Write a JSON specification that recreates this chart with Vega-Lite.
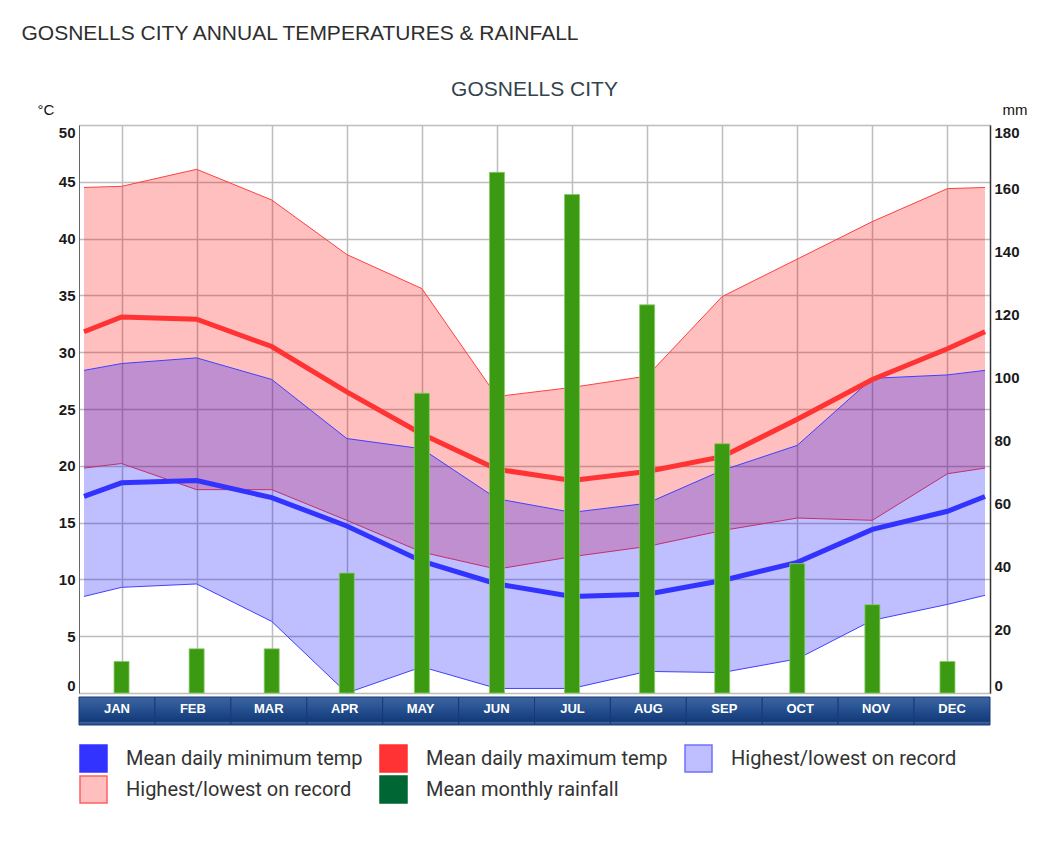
{
  "$schema": "https://vega.github.io/schema/vega-lite/v6.json",
  "background": "white",
  "padding": {"left": 21, "top": 22, "right": 10, "bottom": 10},
  "title": {
    "text": "GOSNELLS CITY ANNUAL TEMPERATURES & RAINFALL",
    "anchor": "start",
    "frame": "bounds",
    "font": "Liberation Sans",
    "fontSize": 21,
    "fontWeight": "normal",
    "color": "#2e2e2e",
    "dx": -15,
    "offset": 35
  },
  "datasets": {
    "temps": [
      {"m": 0.5, "meanMax": 31.8, "meanMin": 17.3, "recHighMax": 44.5, "recLowMax": 19.8, "recHighMin": 28.4, "recLowMin": 8.5},
      {"m": 1, "meanMax": 33.1, "meanMin": 18.5, "recHighMax": 44.6, "recLowMax": 20.2, "recHighMin": 29.0, "recLowMin": 9.3},
      {"m": 2, "meanMax": 32.9, "meanMin": 18.7, "recHighMax": 46.1, "recLowMax": 17.9, "recHighMin": 29.5, "recLowMin": 9.6},
      {"m": 3, "meanMax": 30.5, "meanMin": 17.2, "recHighMax": 43.4, "recLowMax": 17.9, "recHighMin": 27.6, "recLowMin": 6.3},
      {"m": 4, "meanMax": 26.5, "meanMin": 14.7, "recHighMax": 38.6, "recLowMax": 15.2, "recHighMin": 22.4, "recLowMin": 0.0},
      {"m": 5, "meanMax": 22.8, "meanMin": 11.6, "recHighMax": 35.6, "recLowMax": 12.4, "recHighMin": 21.5, "recLowMin": 2.3},
      {"m": 6, "meanMax": 19.7, "meanMin": 9.6, "recHighMax": 26.1, "recLowMax": 10.9, "recHighMin": 17.1, "recLowMin": 0.4},
      {"m": 7, "meanMax": 18.7, "meanMin": 8.5, "recHighMax": 26.9, "recLowMax": 12.0, "recHighMin": 15.9, "recLowMin": 0.4},
      {"m": 8, "meanMax": 19.5, "meanMin": 8.7, "recHighMax": 27.9, "recLowMax": 12.9, "recHighMin": 16.7, "recLowMin": 1.9},
      {"m": 9, "meanMax": 20.8, "meanMin": 9.9, "recHighMax": 34.9, "recLowMax": 14.3, "recHighMin": 19.6, "recLowMin": 1.8},
      {"m": 10, "meanMax": 24.1, "meanMin": 11.5, "recHighMax": 38.2, "recLowMax": 15.4, "recHighMin": 21.8, "recLowMin": 3.0},
      {"m": 11, "meanMax": 27.6, "meanMin": 14.4, "recHighMax": 41.5, "recLowMax": 15.2, "recHighMin": 27.7, "recLowMin": 6.4},
      {"m": 12, "meanMax": 30.3, "meanMin": 16.0, "recHighMax": 44.4, "recLowMax": 19.3, "recHighMin": 28.0, "recLowMin": 7.8},
      {"m": 12.5, "meanMax": 31.8, "meanMin": 17.3, "recHighMax": 44.5, "recLowMax": 19.8, "recHighMin": 28.4, "recLowMin": 8.6}
    ],
    "rain": [
      {"m": 1, "month": "JAN", "rain": 10},
      {"m": 2, "month": "FEB", "rain": 14},
      {"m": 3, "month": "MAR", "rain": 14},
      {"m": 4, "month": "APR", "rain": 38},
      {"m": 5, "month": "MAY", "rain": 95},
      {"m": 6, "month": "JUN", "rain": 165},
      {"m": 7, "month": "JUL", "rain": 158},
      {"m": 8, "month": "AUG", "rain": 123},
      {"m": 9, "month": "SEP", "rain": 79},
      {"m": 10, "month": "OCT", "rain": 41},
      {"m": 11, "month": "NOV", "rain": 28},
      {"m": 12, "month": "DEC", "rain": 10}
    ],
    "legend": [
      {"series": "Mean daily minimum temp"},
      {"series": "Mean daily maximum temp"},
      {"series": "Highest/lowest on record"},
      {"series": "Highest/lowest on record "},
      {"series": "Mean monthly rainfall"}
    ]
  },
  "spacing": 0,
  "vconcat": [
    {
      "width": 911,
      "height": 568,
      "title": {
        "text": "GOSNELLS CITY",
        "font": "Liberation Sans",
        "fontSize": 21,
        "fontWeight": "normal",
        "color": "#33434d",
        "anchor": "middle",
        "offset": 2
      },
      "view": {"stroke": "#aaaaaa", "strokeWidth": 1},
      "layer": [
        {
          "data": {"name": "temps"},
          "layer": [
            {
              "mark": {"type": "area", "color": "#ff0000", "fillOpacity": 0.25},
              "encoding": {
                "x": {"field": "m", "type": "quantitative", "scale": {"domain": [0.5, 12.5], "nice": false, "zero": false},
                  "axis": {"values": [1,2,3,4,5,6,7,8,9,10,11,12], "labels": false, "ticks": false, "domain": false, "title": null, "grid": true, "gridColor": "#bdbdbd", "gridWidth": 1.5}},
                "y": {"field": "recHighMax", "type": "quantitative", "scale": {"domain": [0, 50], "nice": false, "zero": true},
                  "axis": {"orient": "left", "values": [0,5,10,15,20,25,30,35,40,45,50], "title": "°C", "titleAngle": 0, "titleAlign": "left", "titleBaseline": "bottom", "titleX": -42, "titleY": -8, "titleFont": "Liberation Sans", "titleFontSize": 15, "titleFontWeight": "normal", "titleColor": "#111111",
                    "labelFont": "Liberation Sans", "labelFontSize": 15, "labelFontWeight": "bold", "labelColor": "#1a1a1a", "labelFlush": true, "labelPadding": 4, "ticks": false, "domainColor": "#666666", "domainWidth": 1, "grid": true, "gridColor": "#bdbdbd", "gridWidth": 1.5}},
                "y2": {"field": "recLowMax"}
              }
            },
            {
              "mark": {"type": "line", "color": "#ff4040", "strokeWidth": 1},
              "encoding": {"x": {"field": "m", "type": "quantitative"}, "y": {"field": "recHighMax", "type": "quantitative"}}
            },
            {
              "mark": {"type": "line", "color": "#ff4040", "strokeWidth": 1},
              "encoding": {"x": {"field": "m", "type": "quantitative"}, "y": {"field": "recLowMax", "type": "quantitative"}}
            },
            {
              "mark": {"type": "area", "color": "#0000ff", "fillOpacity": 0.25},
              "encoding": {"x": {"field": "m", "type": "quantitative"}, "y": {"field": "recHighMin", "type": "quantitative"}, "y2": {"field": "recLowMin"}}
            },
            {
              "mark": {"type": "line", "color": "#4040ff", "strokeWidth": 1},
              "encoding": {"x": {"field": "m", "type": "quantitative"}, "y": {"field": "recHighMin", "type": "quantitative"}}
            },
            {
              "mark": {"type": "line", "color": "#4040ff", "strokeWidth": 1},
              "encoding": {"x": {"field": "m", "type": "quantitative"}, "y": {"field": "recLowMin", "type": "quantitative"}}
            },
            {
              "mark": {"type": "line", "color": "#ff3333", "strokeWidth": 5},
              "encoding": {"x": {"field": "m", "type": "quantitative"}, "y": {"field": "meanMax", "type": "quantitative"}}
            },
            {
              "mark": {"type": "line", "color": "#3333ff", "strokeWidth": 5},
              "encoding": {"x": {"field": "m", "type": "quantitative"}, "y": {"field": "meanMin", "type": "quantitative"}}
            }
          ]
        },
        {
          "data": {"name": "rain"},
          "mark": {"type": "bar", "width": 15, "color": "#3c9a12", "stroke": "#86cc64", "strokeWidth": 0.8},
          "encoding": {
            "x": {"field": "m", "type": "quantitative"},
            "y": {"field": "rain", "type": "quantitative", "scale": {"domain": [0, 180], "nice": false},
              "axis": {"orient": "right", "values": [0,20,40,60,80,100,120,140,160,180], "title": "mm", "titleAngle": 0, "titleAlign": "left", "titleBaseline": "bottom", "titleX": 12, "titleY": -8, "titleFont": "Liberation Sans", "titleFontSize": 15, "titleFontWeight": "normal", "titleColor": "#111111",
                "labelFont": "Liberation Sans", "labelFontSize": 15, "labelFontWeight": "bold", "labelColor": "#1a1a1a", "labelFlush": true, "labelPadding": 4, "ticks": false, "domainColor": "#333333", "domainWidth": 1.5, "grid": false}}
          }
        }
      ],
      "resolve": {"scale": {"y": "independent"}}
    },
    {
      "width": 911,
      "height": 28,
      "view": {"stroke": null},
      "layer": [
        {
          "data": {"name": "rain"},
          "mark": {
            "type": "bar",
            "stroke": "#173a75",
            "strokeWidth": 1,
            "fill": {
              "gradient": "linear", "x1": 0, "y1": 0, "x2": 0, "y2": 1,
              "stops": [
                {"offset": 0, "color": "#3f64a0"},
                {"offset": 0.45, "color": "#25508f"},
                {"offset": 0.84, "color": "#153b7a"},
                {"offset": 0.86, "color": "#0f2f66"},
                {"offset": 0.9, "color": "#3b5f9c"},
                {"offset": 1, "color": "#2a4f8c"}
              ]
            }
          },
          "encoding": {
            "x": {"field": "month", "type": "nominal", "sort": null, "scale": {"paddingInner": 0, "paddingOuter": 0}, "axis": null}
          }
        },
        {
          "data": {"name": "rain"},
          "mark": {"type": "text", "color": "white", "font": "Liberation Sans", "fontSize": 13, "fontWeight": "bold", "baseline": "middle", "dy": -2},
          "encoding": {
            "x": {"field": "month", "type": "nominal", "sort": null},
            "text": {"field": "month"}
          }
        },
        {
          "data": {"name": "legend"},
          "mark": {"type": "point", "shape": "square", "filled": true, "opacity": 0},
          "encoding": {
            "fill": {"field": "series", "type": "nominal",
              "scale": {"domain": ["Mean daily minimum temp", "Mean daily maximum temp", "Highest/lowest on record", "Highest/lowest on record ", "Mean monthly rainfall"],
                        "range": ["#3333ff", "#ff3333", "#bfbfff", "#ffbfbf", "#006633"]},
              "legend": {"title": null, "orient": "bottom", "columns": 3, "symbolType": "square", "symbolSize": 729, "symbolOpacity": 1, "symbolStrokeWidth": 1.5,
                "labelFont": "Roboto", "labelFontSize": 20, "labelColor": "#333333", "labelOffset": 18, "labelLimit": 400, "columnPadding": 14, "rowPadding": -20, "offset": 18}},
            "stroke": {"field": "series", "type": "nominal",
              "scale": {"domain": ["Mean daily minimum temp", "Mean daily maximum temp", "Highest/lowest on record", "Highest/lowest on record ", "Mean monthly rainfall"],
                        "range": ["#3333ff", "#ff3333", "#7070ff", "#ff6060", "#006633"]},
              "legend": {"title": null, "orient": "bottom", "columns": 3, "symbolType": "square", "symbolSize": 729, "symbolOpacity": 1, "symbolStrokeWidth": 1.5,
                "labelFont": "Roboto", "labelFontSize": 20, "labelColor": "#333333", "labelOffset": 18, "labelLimit": 400, "columnPadding": 14, "rowPadding": -20, "offset": 18}}
          }
        }
      ]
    }
  ]
}
